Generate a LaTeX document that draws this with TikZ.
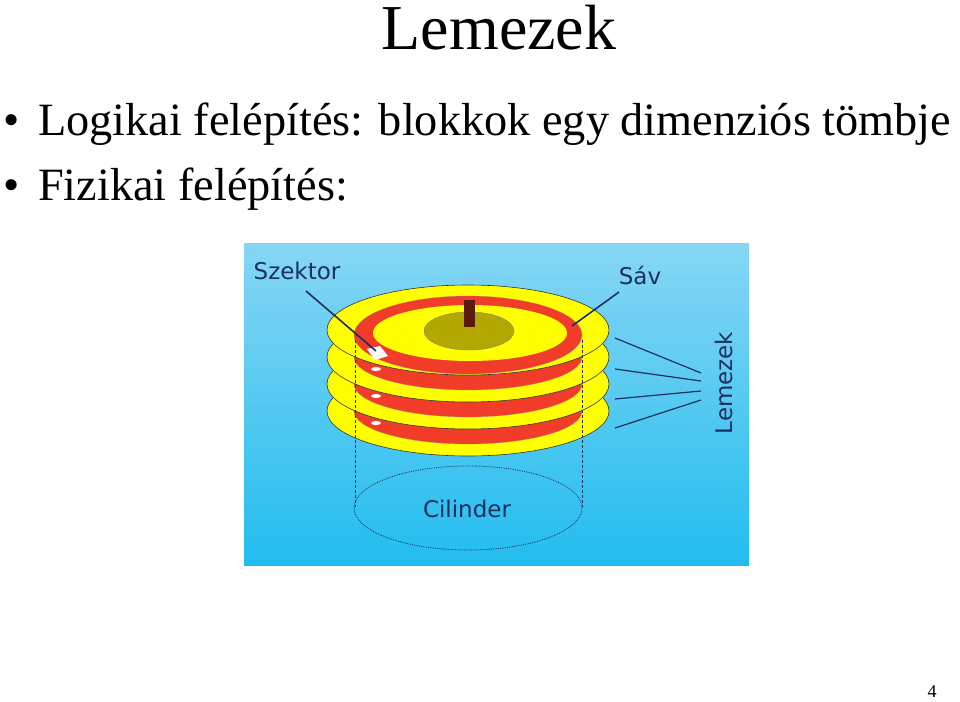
\documentclass[tikz,border=0pt]{standalone}
\usepackage{fontspec}
\setmainfont{Liberation Serif}
\newfontfamily\labelfont{DejaVu Sans}
\definecolor{navy}{HTML}{1C2F5E}
\definecolor{diskyellow}{HTML}{FFFF00}
\definecolor{trackred}{HTML}{F03C28}
\definecolor{hub}{HTML}{B3A800}
\definecolor{spindle}{HTML}{5A1A10}
\definecolor{skytop}{HTML}{86D6F4}
\definecolor{skybottom}{HTML}{22BDEF}
\tikzset{disk/.style = {fill=diskyellow, draw=black!80, semithick},
         track/.style = {fill=trackred, draw=black!40, very thin},
         lbl/.style = {font=\labelfont\fontsize{23}{23}\selectfont, text=navy},
         leader/.style = {draw=navy, line width=1.6pt},
         bullet/.style = {font=\fontsize{46.3}{46}\selectfont, anchor=base west, inner sep=0pt}}
\begin{document}
\begin{tikzpicture}[x=1pt,y=-1pt]
    \useasboundingbox (0,0) rectangle (960,701);
    \node[font=\fontsize{64}{64}\selectfont] (title) at (499,28) {Lemezek};
    \node[bullet] (dot1) at (3,135) {\textbullet};
    \node[bullet] (b1) at (38,135) {Logikai felépítés: blokkok egy dimenziós tömbje};
    \node[bullet] (dot2) at (3,200) {\textbullet};
    \node[bullet] (b2) at (38,200) {Fizikai felépítés:};

    % background of the picture
    \shade[top color=skytop, bottom color=skybottom] (244,243) rectangle (749,565);

    % platters, from the lowest up
    \foreach \y in {411,384,357}{
        \fill[disk] (468,\y) ellipse [x radius=141pt, y radius=45pt];
        \fill[track] (468,\y) ellipse [x radius=114pt, y radius=33pt];
        \fill[diskyellow] (470,\y-8) ellipse [x radius=97pt, y radius=26pt];
        \fill[white] (376,\y+12) ellipse [x radius=5pt, y radius=2pt];
    }
    \fill[disk] (468,330) ellipse [x radius=141pt, y radius=45pt];
    \fill[track] (468,335) ellipse [x radius=114pt, y radius=39pt];
    \fill[diskyellow] (470,333) ellipse [x radius=97pt, y radius=28pt];
    \fill[white] (367,349) -- (380,346) -- (388,356) -- (375,360) -- cycle;
    \fill[hub, draw=black!50] (469,331) ellipse [x radius=45pt, y radius=19pt];
    \fill[spindle] (464,300) rectangle (475,327);

    % cylinder
    \draw[navy, densely dashed] (355,340) -- (355,507);
    \draw[navy, densely dashed] (582,340) -- (582,507);
    \draw[navy, densely dotted, thick] (468,508) ellipse [x radius=114pt, y radius=42pt];

    % labels
    \node[lbl] (szektor) at (297,271) {Szektor};
    \node[lbl] (sav) at (640,275) {Sáv};
    \node[lbl] (cilinder) at (467,509) {Cilinder};
    \node[lbl, rotate=90] (lemezek) at (724,383) {Lemezek};
    \coordinate (sz) at (376,351);
    \coordinate (sv) at (572,326);
    \draw[leader] (306,291) -- (sz);
    \draw[leader] (619,292) -- (sv);
    \foreach \a/\b in {338/373,369/381,399/391,428/400}
        \draw[leader, line width=1.2pt] (615,\a) -- (701,\b);

    \node[font=\fontsize{18}{18}\selectfont] (page) at (932,692) {4};
\end{tikzpicture}
\end{document}
